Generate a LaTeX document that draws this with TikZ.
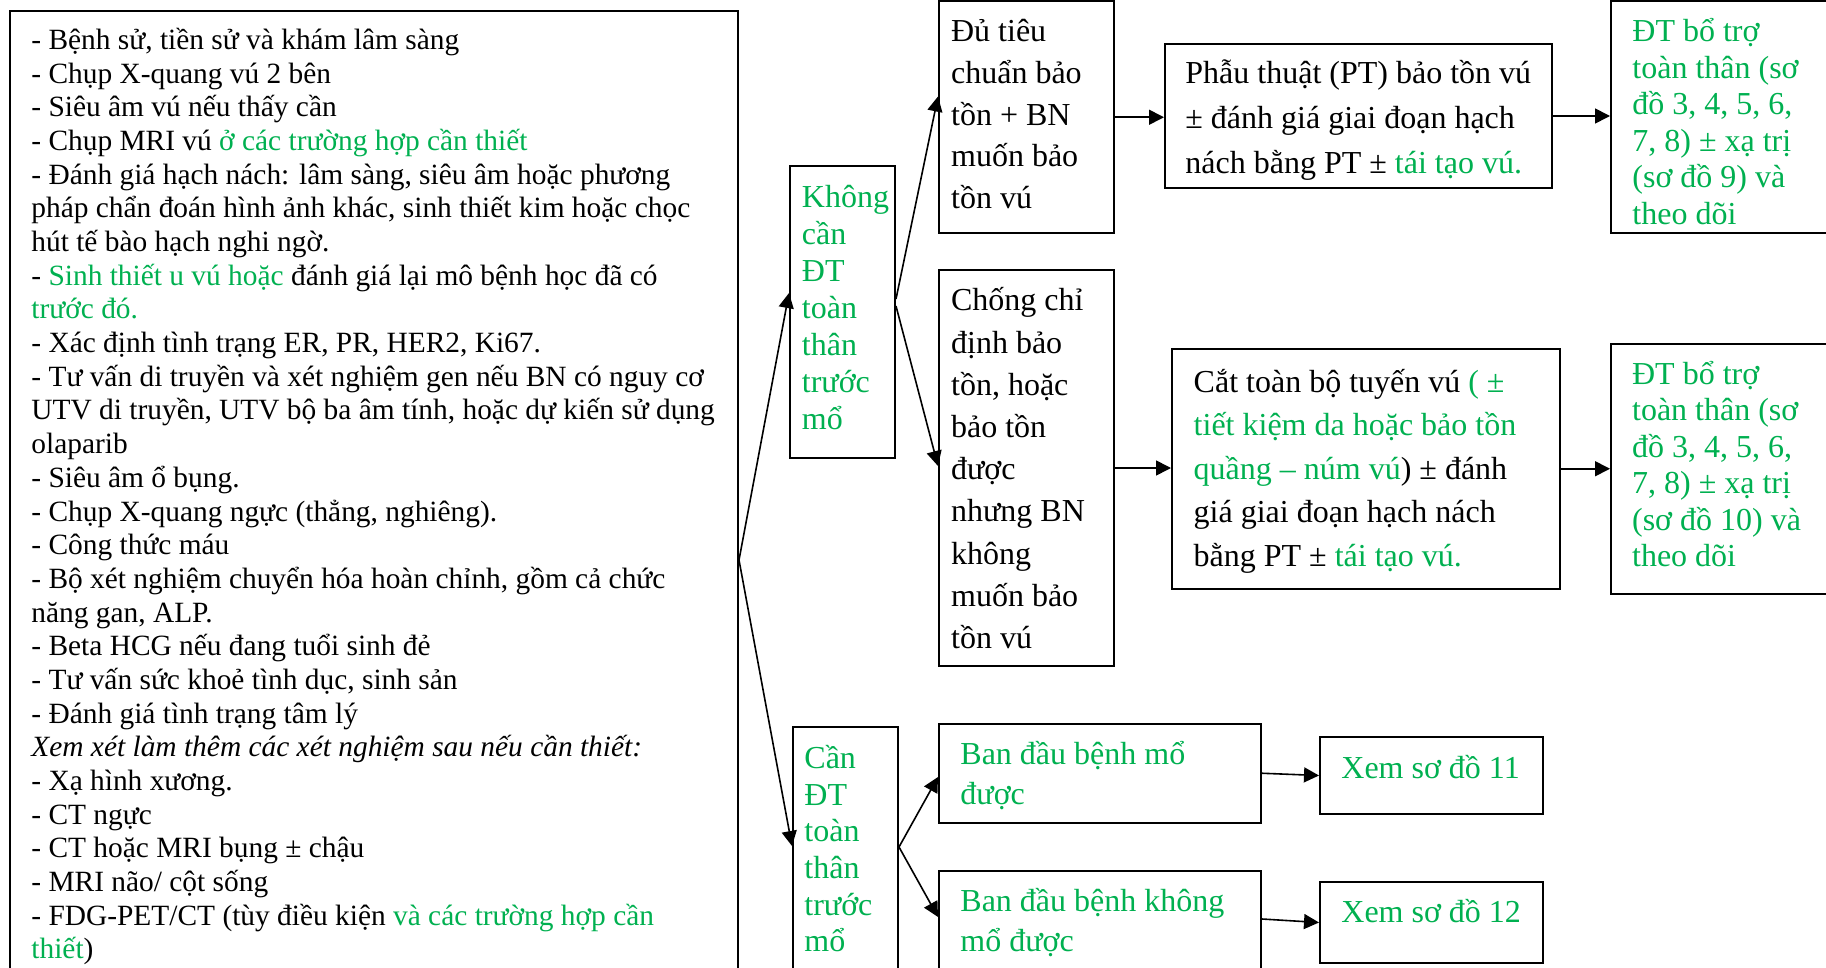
\documentclass[tikz,border=0pt]{standalone}
\usepackage{fontspec}
\setmainfont{Liberation Serif}
\usetikzlibrary{arrows.meta,fit}
\definecolor{grn}{RGB}{0,176,80}
\newcommand\gr[1]{\textcolor{grn}{#1}}
% lines set at a fixed baseline distance; the node baseline is the first line
\newcommand\linesblock[1]{\vtop{\lineskiplimit=-\maxdimen\let\\\cr\halign{##\hfil\cr#1\crcr}}}
\tikzset{
  box/.style={draw, line width=1pt, inner sep=0pt},
  txt/.style={anchor=base west, inner sep=0pt},
  lt/.style={txt, font={\fontsize{14.7pt}{16.84pt}\selectfont}},
  rt/.style={txt, font={\fontsize{16pt}{#1}\selectfont}},
  link/.style={line width=0.8pt, -{Triangle[length=7.5pt,width=7.5pt]}},
}
\begin{document}
\begin{tikzpicture}[x=0.5pt,y=-0.5pt]
\useasboundingbox (0,0) rectangle (1826,968);
\clip (0,0) rectangle (1826,968);

% boxes
\node[box, fit={(10,11) (738,995)}] (W) {};
\node[box, fit={(790,166) (895,458)}] (A) {};
\node[box, fit={(939,1.5) (1114,233)}] (B) {};
\node[box, fit={(1165,44) (1552,188)}] (C) {};
\node[box, fit={(1611,1.5) (1850,233)}] (D) {};
\node[box, fit={(939,270) (1114,666)}] (E) {};
\node[box, fit={(1172,349) (1560,588.5)}] (F) {};
\node[box, fit={(1611,344) (1850,593.5)}] (G) {};
\node[box, fit={(793,727) (898,995)}] (H) {};
\node[box, fit={(939,724) (1261,822.5)}] (I) {};
\node[box, fit={(939,871) (1261,995)}] (J) {};
\node[box, fit={(1320,737) (1543,814)}] (K) {};
\node[box, fit={(1320,882) (1543,963)}] (L) {};

% texts
\node[lt] (tW) at (31,49.5) {\linesblock{%
- Bệnh sử, tiền sử và khám lâm sàng\\
- Chụp X-quang vú 2 bên\\
- Siêu âm vú nếu thấy cần\\
- Chụp MRI vú \gr{ở các trường hợp cần thiết}\\
- Đánh giá hạch nách: lâm sàng, siêu âm hoặc phương\\
pháp chẩn đoán hình ảnh khác, sinh thiết kim hoặc chọc\\
hút tế bào hạch nghi ngờ.\\
- \gr{Sinh thiết u vú hoặc} đánh giá lại mô bệnh học đã có\\
\gr{trước đó.}\\
- Xác định tình trạng ER, PR, HER2, Ki67.\\
- Tư vấn di truyền và xét nghiệm gen nếu BN có nguy cơ\\
UTV di truyền, UTV bộ ba âm tính, hoặc dự kiến sử dụng\\
olaparib\\
- Siêu âm ổ bụng.\\
- Chụp X-quang ngực (thẳng, nghiêng).\\
- Công thức máu\\
- Bộ xét nghiệm chuyển hóa hoàn chỉnh, gồm cả chức\\
năng gan, ALP.\\
- Beta HCG nếu đang tuổi sinh đẻ\\
- Tư vấn sức khoẻ tình dục, sinh sản\\
- Đánh giá tình trạng tâm lý\\
\textit{Xem xét làm thêm các xét nghiệm sau nếu cần thiết:}\\
- Xạ hình xương.\\
- CT ngực\\
- CT hoặc MRI bụng ± chậu\\
- MRI não/ cột sống\\
- FDG-PET/CT (tùy điều kiện \gr{và các trường hợp cần}\\
\gr{thiết})}};

\node[rt=18.5pt, text=grn] (tA) at (801.5,208) {\linesblock{Không\\cần\\ĐT\\toàn\\thân\\trước\\mổ}};
\node[rt=20.9pt] (tB) at (950.7,41.5) {\linesblock{Đủ tiêu\\chuẩn bảo\\tồn + BN\\muốn bảo\\tồn vú}};
\node[rt=22.3pt] (tC) at (1185,84) {\linesblock{Phẫu thuật (PT) bảo tồn vú\\± đánh giá giai đoạn hạch\\nách bằng PT ± \gr{tái tạo vú.}}};
\node[rt=18.3pt, text=grn] (tD) at (1632,41.5) {\linesblock{ĐT bổ trợ\\toàn thân (sơ\\đồ 3, 4, 5, 6,\\7, 8) ± xạ trị\\(sơ đồ 9) và\\theo dõi}};
\node[rt=21.1pt] (tE) at (950.7,311) {\linesblock{Chống chỉ\\định bảo\\tồn, hoặc\\bảo tồn\\được\\nhưng BN\\không\\muốn bảo\\tồn vú}};
\node[rt=21.8pt] (tF) at (1193.3,392) {\linesblock{Cắt toàn bộ tuyến vú \gr{( ±}\\\gr{tiết kiệm da hoặc bảo tồn}\\\gr{quầng – núm vú}) ± đánh\\giá giai đoạn hạch nách\\bằng PT ± \gr{tái tạo vú.}}};
\node[rt=18.3pt, text=grn] (tG) at (1631.7,384) {\linesblock{ĐT bổ trợ\\toàn thân (sơ\\đồ 3, 4, 5, 6,\\7, 8) ± xạ trị\\(sơ đồ 10) và\\theo dõi}};
\node[rt=18.3pt, text=grn] (tH) at (804,768.7) {\linesblock{Cần\\ĐT\\toàn\\thân\\trước\\mổ}};
\node[rt=20.35pt, text=grn] (tI) at (960,764) {\linesblock{Ban đầu bệnh mổ\\được}};
\node[rt=20pt, text=grn] (tJ) at (960,911.5) {\linesblock{Ban đầu bệnh không\\mổ được}};
\node[rt=20pt, text=grn] (tK) at (1341,778) {Xem sơ đồ 11};
\node[rt=20pt, text=grn] (tL) at (1341,922.5) {Xem sơ đồ 12};

% connectors
\coordinate (split) at ([yshift=-275pt]W.north east);
\draw[link] (split) -- ([yshift=-64pt]A.north west);
\draw[link] (split) -- ([yshift=-60pt]H.north west);
\draw[link] ([yshift=-67pt]A.north east) -- ([yshift=-48pt]B.north west);
\draw[link] ([yshift=-70.5pt]A.north east) -- ([yshift=-98.5pt]E.north west);
\draw[link] (B.east) -- (B.east -| C.west);
\draw[link] (C.east) -- (C.east -| D.west);
\draw[link] (E.east) -- (E.east -| F.west);
\draw[link] (F.east) -- (F.east -| G.west);
\draw[link] ([yshift=-60.5pt]H.north east) -- ([yshift=-27pt]I.north west);
\draw[link] ([yshift=-60.5pt]H.north east) -- ([yshift=-23.5pt]J.north west);
\draw[link] (I.east) -- (K.west);
\draw[link] ([yshift=-24.5pt]J.north east) -- (L.west);
\end{tikzpicture}
\end{document}
